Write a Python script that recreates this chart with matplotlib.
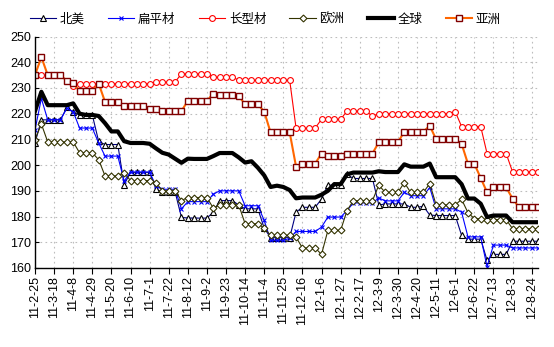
import matplotlib
matplotlib.use("Agg")
import matplotlib.pyplot as plt
import numpy as np

# ---- data (weekly, 2011-02-25 .. 2012-08-31) ----
tick_labels = ["11-2-25", "11-3-18", "11-4-8", "11-4-29", "11-5-20", "11-6-10", "11-7-1",
               "11-7-22", "11-8-12", "11-9-2", "11-9-23", "11-10-14", "11-11-4", "11-11-25",
               "11-12-16", "12-1-6", "12-1-27", "12-2-17", "12-3-9", "12-3-30", "12-4-20",
               "12-5-11", "12-6-1", "12-6-22", "12-7-13", "12-8-3", "12-8-24"]
tick_step = 3

north_america = [208.6, 217.6, 217.6, 217.6, 217.6, 222.4, 220.5, 219.5, 219.5, 219.5,
                 209.2, 208, 208, 208, 192.4, 197.2, 197.2, 197.2, 197.2, 190.6,
                 189.6, 189.6, 189.6, 179.7, 179.4, 179.4, 179.4, 179.4, 181.7, 186.2,
                 186.2, 186.2, 184.5, 183, 183, 183, 175.5, 171.8, 171.8, 171.8,
                 171.8, 181.7, 183.6, 183.6, 183.6, 186.8, 192.2, 192.2, 192.2, 196.4,
                 194.8, 194.8, 194.8, 194.8, 184.5, 184.9, 184.9, 184.9, 184.9, 183.6,
                 183.6, 184, 180.6, 180.4, 180.4, 180.4, 180.4, 172.7, 171.2, 171.2,
                 171.2, 163, 165.3, 165.3, 165.3, 170.4, 170.4, 170.4, 170.4, 170.4]

flat = [213.7, 225.9, 217.6, 217.6, 217.6, 222.1, 220.8, 214.4, 214.4, 214.4,
        208.6, 203.5, 203.5, 203.5, 193.8, 197.3, 197.3, 197.3, 197.3, 191.9,
        190.6, 190.6, 190.6, 183, 185.8, 185.8, 185.8, 185.8, 188.7, 190,
        190, 190, 190, 184.2, 184.2, 184.2, 178.5, 170.8, 170.8, 170.8,
        171.5, 174.2, 174.2, 174.2, 174.2, 175.9, 179.8, 179.8, 179.8, 182.3,
        185.3, 185.3, 185.3, 185.3, 187.2, 186.1, 186.1, 186.1, 189.4, 188.1,
        188.1, 188.1, 191.3, 183, 183, 183, 183, 181.7, 172.1, 172.1,
        172.1, 160.5, 168.9, 168.9, 168.9, 167.8, 167.8, 167.8, 167.8, 167.8]

long_products = [235, 235, 235, 235, 235, 232.7, 230.8, 231.7, 231.7, 231.7,
                 231.7, 231.7, 231.7, 231.7, 231.7, 231.7, 231.7, 231.7, 231.7, 232.3,
                 232.3, 232.3, 232.3, 235.5, 235.5, 235.5, 235.5, 235.5, 234.2, 234.2,
                 234.2, 234.2, 233, 233, 233, 233, 233, 233, 233, 233,
                 233, 214.4, 214.4, 214.4, 214.4, 217.8, 217.8, 217.8, 217.8, 221,
                 221, 221, 221, 219, 220, 220, 220, 220, 220, 220,
                 220, 220, 220, 220, 220, 220, 220.8, 215, 215, 215,
                 215, 204.5, 204.5, 204.5, 204.5, 197.4, 197.4, 197.4, 197.4, 197.4]

europe = [209.9, 216, 209, 209, 209, 209, 209, 204.8, 204.8, 204.8,
          202.1, 195.8, 195.8, 195.8, 197, 194, 194, 194, 194, 193.2,
          190, 190, 190, 186.2, 187.4, 187.4, 187.4, 187.4, 183.3, 184.5,
          184.5, 184.5, 184.5, 177.2, 177.2, 177.2, 175.5, 172.7, 172.7, 172.7,
          172.7, 172, 167.8, 167.8, 167.8, 165.3, 174.6, 174.6, 174.6, 182.3,
          186.2, 186.2, 186.2, 186.2, 192.2, 189.4, 189.4, 189.4, 193.2, 189.4,
          189.4, 189.4, 192.8, 184.5, 184.5, 184.5, 184.5, 186.7, 181.5, 179.2,
          179.2, 178.8, 178.8, 178.8, 178.8, 175.3, 175.3, 175.3, 175.3, 175.3]

world = [221, 228.5, 223.3, 223.3, 223.3, 223.3, 224, 220, 219.5, 219.5,
         219.1, 216.3, 213.1, 213.1, 209.3, 208.6, 208.6, 208.6, 208.3, 206.5,
         204.8, 204.1, 202.5, 200.9, 202.5, 202.4, 202.4, 202.4, 203.5, 204.7,
         204.7, 204.7, 203, 201, 201.5, 199, 196, 191.5, 192, 191.5,
         190.3, 187.1, 187.4, 187.4, 187.4, 188.5, 190, 192.6, 192.6, 196.4,
         197.1, 197.1, 197.1, 197.1, 197.6, 197.3, 197.3, 197.3, 200.3, 199.4,
         199.4, 199.4, 200.6, 195.3, 195.3, 195.3, 195.3, 192.6, 187, 187,
         185, 179.8, 180.4, 180.4, 180.4, 177.8, 177.8, 177.8, 177.8, 177.8]

asia = [235, 242, 235, 235, 235, 232.7, 232, 228.7, 228.7, 228.7,
        231.7, 224.6, 224.6, 224.6, 223, 223, 223, 223, 222, 222,
        221, 221, 221, 221, 225, 225, 225, 225, 227.8, 227.4,
        227.4, 227.4, 226.9, 223.6, 223.6, 223.6, 220.8, 212.7, 212.7, 212.7,
        212.7, 199.4, 200.6, 200.6, 200.6, 204.5, 203.5, 203.5, 203.5, 204.5,
        204.5, 204.5, 204.5, 204.5, 208.9, 208.9, 208.9, 208.9, 213, 213,
        213, 213, 215.3, 210, 210, 210, 210, 208.3, 200.5, 200.5,
        195, 189.4, 191.3, 191.3, 191.3, 187, 183.6, 183.6, 183.6, 183.6]

series_names = ["北美", "扁平材", "长型材", "欧洲", "全球", "亚洲"]

# ---- figure ----
W, H = 554, 347
fig = plt.figure(figsize=(W / 100, H / 100), dpi=100)
ax = fig.add_axes([35 / W, 1 - 268 / H, (538 - 35) / W, (268 - 36.5) / H])

x = np.arange(len(world))
ms_kw = dict(markerfacecolor="white")
lines = []
lines += ax.plot(x, north_america, color="#000080", lw=0.8, marker="^", ms=4.4,
                 markeredgecolor="#000000", markeredgewidth=0.8, **ms_kw)
lines += ax.plot(x, flat, color="#0000FF", lw=0.8, marker="x", ms=3.0,
                 markeredgecolor="#0000FF", markeredgewidth=0.8)
lines += ax.plot(x, long_products, color="#FF0000", lw=0.8, marker="o", ms=4.2,
                 markeredgecolor="#FF0000", markeredgewidth=0.8, **ms_kw)
lines += ax.plot(x, europe, color="#333300", lw=0.8, marker="D", ms=3.5,
                 markeredgecolor="#333300", markeredgewidth=0.8, **ms_kw)
lines += ax.plot(x, world, color="#000000", lw=3.0)
lines += ax.plot(x, asia, color="#FF6600", lw=1.5, marker="s", ms=4.6,
                 markeredgecolor="#800000", markeredgewidth=1.0, **ms_kw)

ax.set_xlim(0, len(world) - 1)
ax.set_ylim(160, 250)
ax.set_yticks(np.arange(160, 251, 10))
xt = np.arange(0, tick_step * len(tick_labels), tick_step)
ax.set_xticks(xt)
ax.set_xticklabels(tick_labels, rotation=90, fontsize=9, family=["Liberation Sans", "DejaVu Sans"])
for lab in ax.get_yticklabels():
    lab.set_fontsize(9)
    lab.set_family(["Liberation Sans", "DejaVu Sans"])

ax.grid(True, color="#BDBDBD", linestyle=(0, (1.5, 3)), linewidth=0.8)
ax.set_axisbelow(True)
for s in ["top", "right"]:
    ax.spines[s].set_visible(False)
for s in ["left", "bottom"]:
    ax.spines[s].set_color("black")
    ax.spines[s].set_linewidth(1.0)
ax.tick_params(axis="y", direction="in", length=3, width=0.8, pad=3)
ax.tick_params(axis="x", direction="out", length=4, width=0.8, pad=2)

leg = fig.legend(lines, series_names, loc="center left", bbox_to_anchor=(30 / W, 1 - 19 / H),
                 ncol=6, frameon=False, borderpad=0, borderaxespad=0,
                 handlelength=2.1, handletextpad=0.3, columnspacing=1.85,
                 prop={"family": ["Noto Sans CJK SC"], "size": 9})

fig.savefig("out.png", dpi=100)
